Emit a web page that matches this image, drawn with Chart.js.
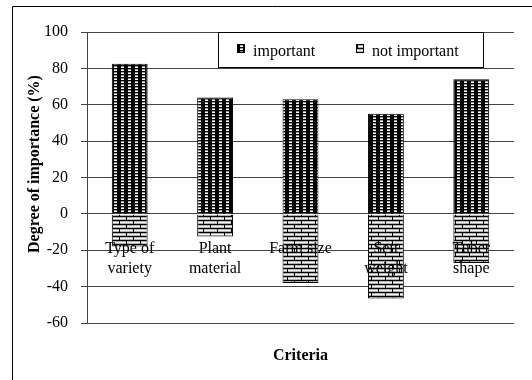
<!DOCTYPE html>
<html>
<head>
<meta charset="utf-8">
<style>
  html, body { margin: 0; padding: 0; background: #fff; }
  canvas { display: block; }
</style>
<script src="https://cdn.jsdelivr.net/npm/chart.js@4.4.0/dist/chart.umd.min.js"></script>
</head>
<body>
<canvas id="chart" width="532" height="380"></canvas>
<script>
// Criteria (multi-line category labels)
const categories = [["Type of", "variety"], ["Plant", "material"], ["Farm size"], ["Sett", "weight"], ["Tuber", "shape"]];
// Share of respondents rating each criterion (%)
const importantValues = [82.5, 64, 63, 55, 74];
const notImportantValues = [-18, -12.5, -38, -46.5, -27];
const seriesNames = ["important", "not important"];
const yTickValues = [-60, -40, -20, 0, 20, 40, 60, 80, 100];
const yAxisTitle = "Degree of importance (%)";
const xAxisTitle = "Criteria";

const SERIF = "'Liberation Serif', 'Times New Roman', serif";
const canvas = document.getElementById('chart');
const ctx = canvas.getContext('2d');

// Dense dark grid fill
function gridPattern() {
  const t = document.createElement('canvas');
  t.width = 7; t.height = 3;
  const g = t.getContext('2d');
  g.fillStyle = '#000'; g.fillRect(0, 0, 7, 3);
  g.fillStyle = '#9a9a9a'; g.fillRect(2, 0, 3, 1);
  g.fillStyle = '#fff'; g.fillRect(2, 1, 3, 1);
  return ctx.createPattern(t, 'repeat');
}
// Horizontal brick fill
function brickPattern() {
  const t = document.createElement('canvas');
  t.width = 14; t.height = 8;
  const g = t.getContext('2d');
  g.fillStyle = '#b0b0b0'; g.fillRect(0, 0, 14, 8);
  g.fillStyle = '#f4f4f4'; g.fillRect(0, 2, 14, 1); g.fillRect(0, 6, 14, 1);
  g.fillStyle = '#000';
  g.fillRect(0, 0, 14, 1); g.fillRect(0, 4, 14, 1);
  g.fillRect(0, 1, 1, 3); g.fillRect(7, 5, 1, 3);
  return ctx.createPattern(t, 'repeat');
}
const fills = [gridPattern(), brickPattern()];

const decorPlugin = {
  id: 'decor',
  beforeDraw(chart) {
    const c = chart.ctx;
    c.save();
    c.strokeStyle = '#000';
    c.lineWidth = 1;
    c.beginPath();
    c.moveTo(12.5, 380); c.lineTo(12.5, 6.5); c.lineTo(532, 6.5);
    c.stroke();
    c.restore();
  },
  afterDraw(chart) {
    const c = chart.ctx;
    c.save();
    c.fillStyle = '#000';
    // Y title
    c.translate(35, 164);
    c.rotate(-Math.PI / 2);
    c.font = "bold 16px " + SERIF;
    c.textAlign = 'center';
    c.textBaseline = 'middle';
    c.fillText(yAxisTitle, 0, 0);
    c.restore();

    c.save();
    c.fillStyle = '#000';
    c.font = "bold 16px " + SERIF;
    c.textAlign = 'center';
    c.textBaseline = 'alphabetic';
    const area = chart.chartArea;
    c.fillText(xAxisTitle, (area.left + area.right) / 2, 360);

    // Legend box
    c.fillStyle = '#fff';
    c.fillRect(218.5, 32.5, 265, 35);
    c.strokeStyle = '#000';
    c.lineWidth = 1;
    c.strokeRect(218.5, 32.5, 265, 35);
    const items = [{ ix: 237, tx: 253 }, { ix: 356, tx: 372 }];
    c.font = "16px " + SERIF;
    c.textAlign = 'left';
    items.forEach((it, i) => {
      c.fillStyle = fills[i];
      c.fillRect(it.ix, 44, 7, 8);
      c.strokeStyle = '#000';
      c.strokeRect(it.ix + 0.5, 44.5, 7, 8);
      c.fillStyle = '#000';
      c.fillText(chart.data.datasets[i].label, it.tx, 56);
    });
    c.restore();
  }
};

new Chart(ctx, {
  type: 'bar',
  data: {
    labels: categories,
    datasets: [
      { label: seriesNames[0], data: importantValues, backgroundColor: fills[0] },
      { label: seriesNames[1], data: notImportantValues, backgroundColor: fills[1] }
    ]
  },
  options: {
    responsive: false,
    animation: false,
    layout: { padding: { left: 0, right: 18, top: 32, bottom: 57 } },
    datasets: {
      bar: {
        barPercentage: 0.42,
        categoryPercentage: 1,
        borderWidth: 1,
        borderColor: '#000',
        borderSkipped: 'start'
      }
    },
    scales: {
      x: {
        type: 'category',
        position: { y: 0 },
        stacked: true,
        grid: { display: false },
        border: { display: false },
        ticks: {
          z: 1,
          color: '#000',
          font: { family: SERIF, size: 16, lineHeight: 1.25 },
          padding: 17,
          maxRotation: 0,
          autoSkip: false
        }
      },
      y: {
        stacked: true,
        min: -60,
        max: 100,
        afterBuildTicks(scale) {
          scale.ticks = yTickValues.map(v => ({ value: v }));
        },
        afterFit(scale) { scale.width = 87; },
        grid: { color: '#444', lineWidth: 1, tickLength: 6 },
        border: { display: true, color: '#444' },
        ticks: {
          color: '#000',
          font: { family: SERIF, size: 16 },
          padding: 13
        }
      }
    },
    plugins: {
      legend: { display: false },
      tooltip: { enabled: false },
      title: { display: false }
    }
  },
  plugins: [decorPlugin]
});
</script>
</body>
</html>
